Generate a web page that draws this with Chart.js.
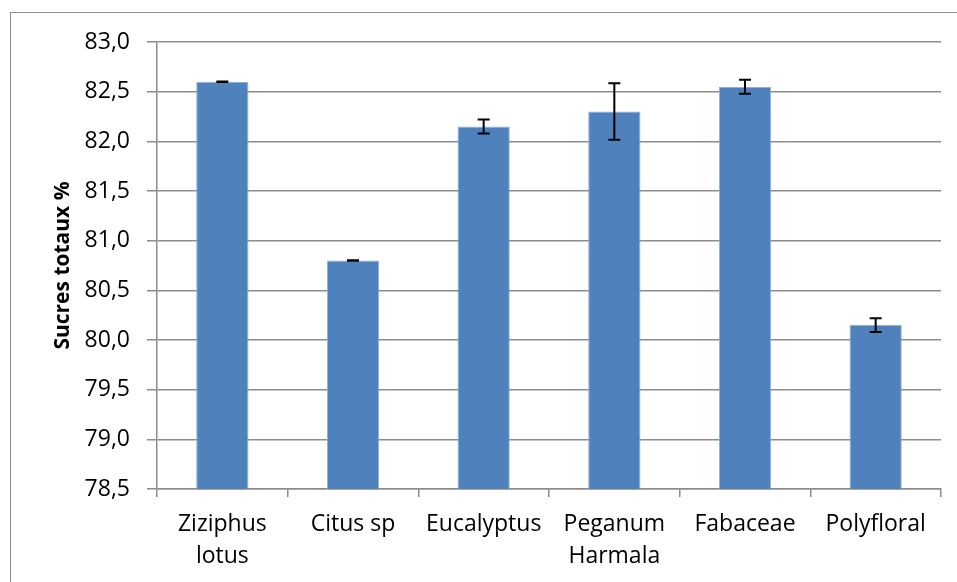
<!DOCTYPE html>
<html>
<head>
<meta charset="utf-8">
<script src="https://cdn.jsdelivr.net/npm/chart.js@4.4.1/dist/chart.umd.min.js"></script>
<style>
    html, body { margin: 0; padding: 0; background: #fff; }
    #wrap { position: relative; width: 957px; height: 582px; overflow: hidden; }
    #frame { position: absolute; left: 10px; top: 12px; width: 1000px; height: 1000px; border: 1.5px solid #8c8c8c; }
    #myChart { position: absolute; left: 0; top: 0; }
</style>
</head>
<body>
<div id="wrap">
    <div id="frame"></div>
    <canvas id="myChart" width="957" height="582"></canvas>
</div>
<script>
    const labels = [['Ziziphus', 'lotus'], 'Citus sp', 'Eucalyptus', ['Peganum', 'Harmala'], 'Fabaceae', 'Polyfloral'];
    const sugars = [82.6, 80.8, 82.15, 82.3, 82.55, 80.15];
    const errors = [0.003, 0.003, 0.07, 0.285, 0.07, 0.07];

    const yMin = 78.5;
    const yMax = 83.0;
    const yStep = 0.5;

    // draws the +/- error bars through the chart scales
    const errorBars = {
        id: 'errorBars',
        afterDatasetsDraw(chart) {
            const ctx = chart.ctx;
            const meta = chart.getDatasetMeta(0);
            const y = chart.scales.y;
            ctx.save();
            ctx.strokeStyle = '#000';
            ctx.lineWidth = 2;
            meta.data.forEach(function (bar, i) {
                const top = y.getPixelForValue(sugars[i] + errors[i]);
                const bottom = y.getPixelForValue(sugars[i] - errors[i]);
                const x = bar.x;
                ctx.beginPath();
                ctx.moveTo(x, top); ctx.lineTo(x, bottom);
                ctx.moveTo(x - 6, top); ctx.lineTo(x + 6, top);
                ctx.moveTo(x - 6, bottom); ctx.lineTo(x + 6, bottom);
                ctx.stroke();
            });
            ctx.restore();
        }
    };

    const config = {
        type: 'bar',
        data: {
            labels: labels,
            datasets: [{
                data: sugars,
                backgroundColor: '#4F81BD',
                borderColor: '#8fb0db',
                borderWidth: 1,
                barPercentage: 0.4,
                categoryPercentage: 1
            }]
        },
        options: {
            responsive: false,
            animation: false,
            layout: { padding: { left: 50, top: 42, right: 16, bottom: 0 } },
            plugins: {
                legend: { display: false },
                tooltip: { enabled: false }
            },
            scales: {
                x: {
                    afterFit(scale) { scale.height = 93; },
                    grid: { drawOnChartArea: false, offset: true, tickLength: 8, color: '#8c8c8c', lineWidth: 1.5 },
                    border: { color: '#8c8c8c', width: 1.5 },
                    ticks: { color: '#000', padding: 11, maxRotation: 0, font: { family: 'Open Sans', size: 23, lineHeight: 1.4 } }
                },
                y: {
                    min: yMin,
                    max: yMax,
                    afterFit(scale) { scale.width = 107; },
                    afterBuildTicks(scale) {
                        const t = [];
                        for (let v = yMin; v <= yMax + 1e-9; v += yStep) t.push({ value: Math.round(v * 10) / 10 });
                        scale.ticks = t;
                    },
                    grid: { color: '#8c8c8c', lineWidth: 1.5, tickLength: 10 },
                    border: { color: '#8c8c8c', width: 1.5 },
                    ticks: {
                        color: '#000',
                        padding: 17,
                        font: { family: 'Open Sans', size: 23 },
                        callback: function (v) { return v.toFixed(1).replace('.', ','); }
                    },
                    title: {
                        display: true,
                        text: 'Sucres totaux %',
                        color: '#000',
                        padding: 0,
                        font: { family: 'Open Sans', size: 21, weight: 'bold' }
                    }
                }
            }
        },
        plugins: [errorBars]
    };

    var chart = new Chart(document.getElementById('myChart'), config);
</script>
</body>
</html>
